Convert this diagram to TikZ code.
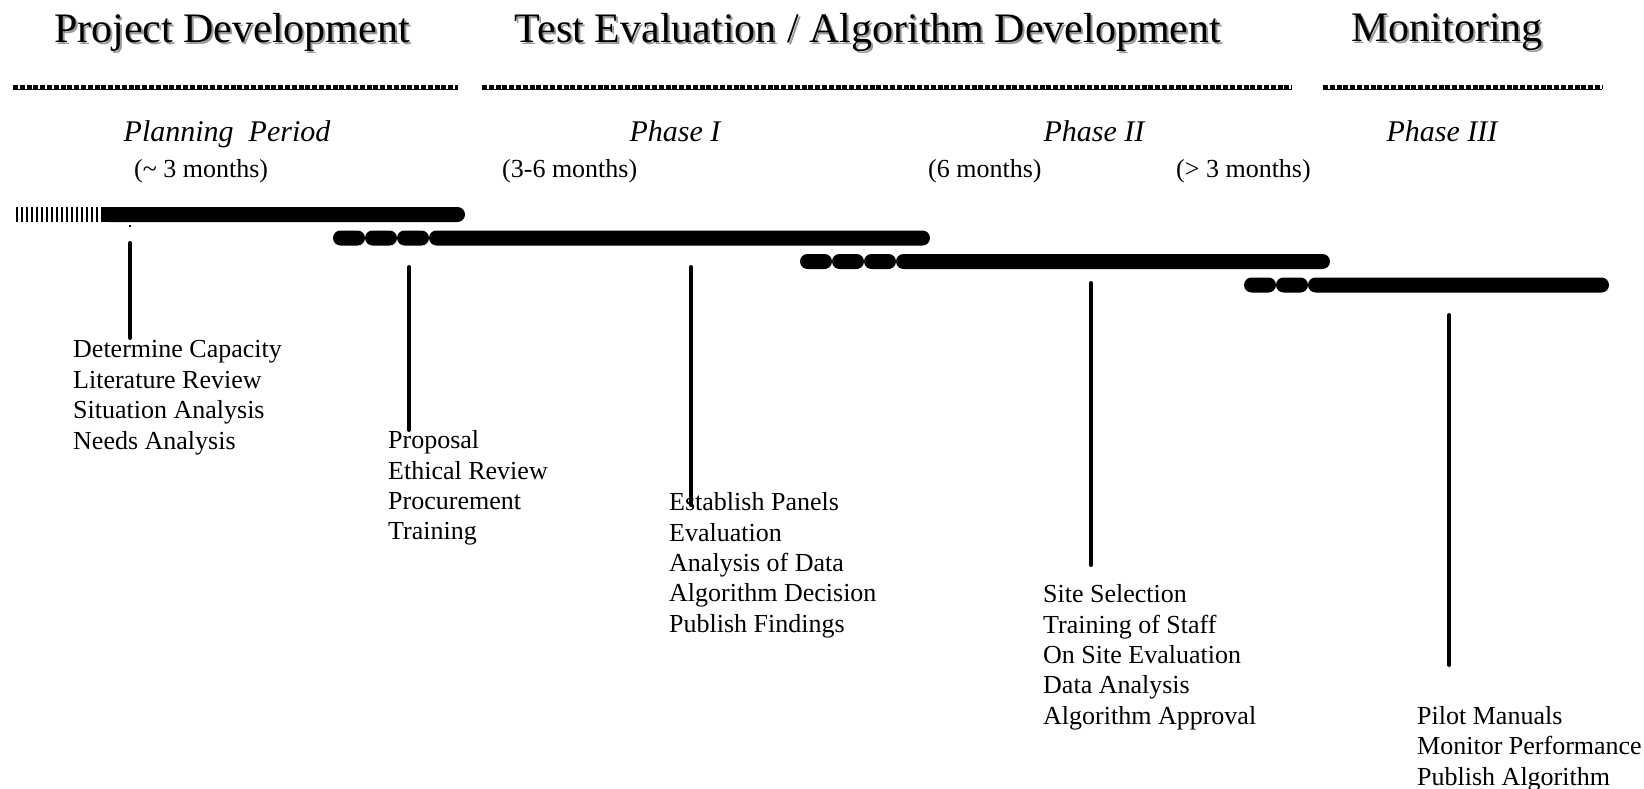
\documentclass[tikz,border=0pt]{standalone}
\usepackage{fontspec}
\setmainfont{Liberation Serif}

\tikzset{
  heading/.style={font=\fontsize{42}{48}\selectfont, anchor=base, inner sep=0pt},
  headshade/.style={heading, text=black!40},
  phase/.style={font=\fontsize{30}{34}\selectfont\itshape, anchor=base, inner sep=0pt},
  months/.style={font=\fontsize{26}{30}\selectfont, anchor=base west, inner sep=0pt},
  tasks/.style={font=\fontsize{26}{30.4}\selectfont, align=left, anchor=north west, inner sep=0pt},
  pill/.style={fill=black, rounded corners=7.5pt},
  stem/.style={line width=4pt, line cap=round},
}

\begin{document}
\begin{tikzpicture}[x=1pt, y=-1pt]
\useasboundingbox (0,0) rectangle (1644,789);

% headings with shadow
\node[headshade] at (234,45) {Project Development};
\node[heading] (projdev) at (232,43) {Project Development};
\node[headshade] at (870,45) {Test Evaluation / Algorithm Development};
\node[heading] (testeval) at (868,43) {Test Evaluation / Algorithm Development};
\node[headshade] at (1449,44) {Monitoring};
\node[heading] (monitor) at (1447,42) {Monitoring};

% wavy rules
\foreach \a/\b in {13/458, 482/1292, 1323/1602} {
  \draw[line width=1.4pt] (\a,89.3) -- (\b,89.3);
  \draw[line width=4pt, dash pattern=on 5pt off 1.8pt] (\a,87) -- (\b,87);
}

% phases
\node[phase] (plan) at (227,142) {Planning~~Period};
\node[phase] (ph1) at (675,142) {Phase I};
\node[phase] (ph2) at (1094,142) {Phase II};
\node[phase] (ph3) at (1442,142) {Phase III};
\node[months] (dur0) at (134,177) {(\textasciitilde{} 3 months)};
\node[months] (dur1) at (502,177) {(3-6 months)};
\node[months] (dur2) at (928,177) {(6 months)};
\node[months] (dur3) at (1176,177) {(> 3 months)};

% bar 1
\foreach \i in {0,...,16}
  \draw[line width=2pt] ({17+5*\i},207) -- ++(0,15);
\fill[pill] (101,207) rectangle (465,222);
\fill (101,207) rectangle (115,222);
\fill (129,225) rectangle (131,227);

% bar 2
\foreach \x in {333,365,397}
  \fill[pill] (\x,230.5) rectangle ++(32,15);
\fill[pill] (429,230.5) rectangle (930,245.5);

% bar 3
\foreach \x in {800,832,864}
  \fill[pill] (\x,254) rectangle ++(32,15);
\fill[pill] (896,254) rectangle (1330,269);

% bar 4
\foreach \x in {1244,1276}
  \fill[pill] (\x,277.5) rectangle ++(32,15);
\fill[pill] (1308,277.5) rectangle (1609,292.5);

% task lists
\node[tasks] (list1) at (73,340.5) {Determine Capacity\\Literature Review\\Situation Analysis\\Needs Analysis};
\node[tasks] (list2) at (388,430.5) {Proposal\\Ethical Review\\Procurement\\Training};
\node[tasks] (list3) at (669,492.5) {Establish Panels\\Evaluation\\Analysis of Data\\Algorithm Decision\\Publish Findings};
\node[tasks] (list4) at (1043,584.5) {Site Selection\\Training of Staff\\On Site Evaluation\\Data Analysis\\Algorithm Approval};
\node[tasks] (list5) at (1417,706) {Pilot Manuals\\Monitor Performance\\Publish Algorithm};

% stems
\coordinate (s1) at (130,243);  \coordinate (e1) at (130,338);
\coordinate (s2) at (409,267);  \coordinate (e2) at (409,430);
\coordinate (s3) at (691,267);  \coordinate (e3) at (691,505);
\coordinate (s4) at (1091,283); \coordinate (e4) at (1091,565);
\coordinate (s5) at (1449,315); \coordinate (e5) at (1449,665);
\foreach \k in {1,...,5}
  \draw[stem] (s\k) -- (e\k);
\end{tikzpicture}
\end{document}
